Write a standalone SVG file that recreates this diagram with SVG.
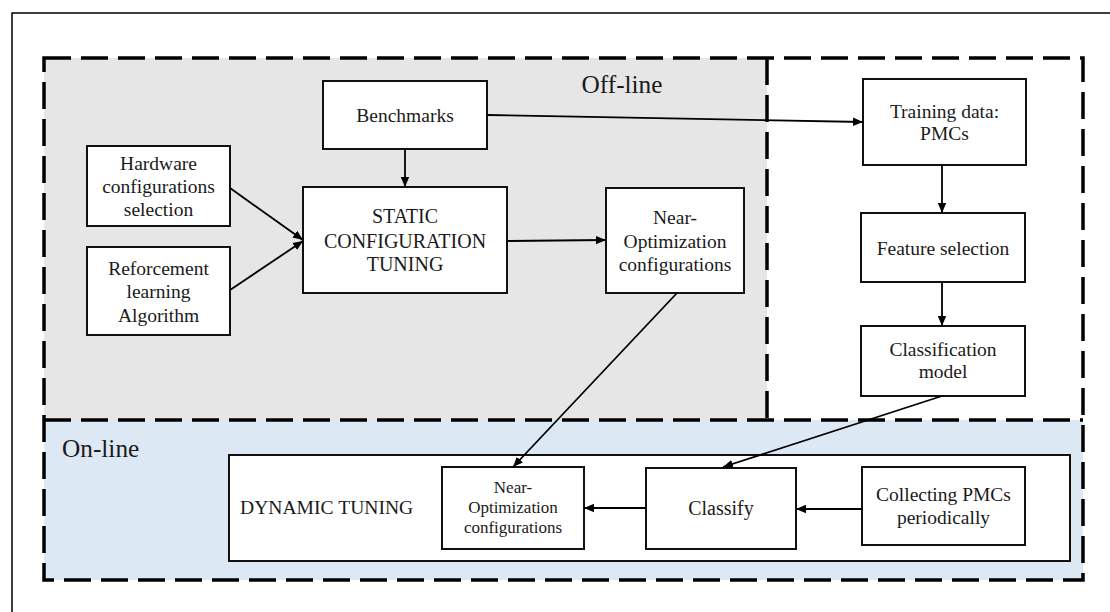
<svg xmlns="http://www.w3.org/2000/svg" width="1110" height="612" viewBox="0 0 1110 612">
<defs>
<style>
.box{fill:#fff;stroke:#111;stroke-width:2}
.dash{fill:none;stroke:#000;stroke-width:3.5;stroke-dasharray:27 10}
.t{font-family:"Liberation Serif","Times New Roman",serif;fill:#1a1a1a;text-anchor:middle}
.f19{font-size:20px}
.f18{font-size:19.5px}
.f16{font-size:17px}
.lbl{font-size:25.3px}
.conn{fill:none;stroke:#000;stroke-width:1.8}
</style>
<marker id="ah" markerUnits="userSpaceOnUse" markerWidth="12" markerHeight="10" refX="10" refY="5" orient="auto">
<path d="M0,0.8 L10,5 L0,9.2 Z" fill="#000"/>
</marker>
</defs>
<rect x="0" y="0" width="1110" height="612" fill="#fff"/>
<path d="M1110,13 H12 V612" fill="none" stroke="#000" stroke-width="1.5"/>

<g id="regions">
<rect x="44" y="58" width="723" height="362" fill="#e6e6e6"/>
<rect x="767" y="58" width="316" height="362" fill="#fff"/>
<rect x="44" y="420" width="1039" height="160" fill="#dde8f5"/>
<path class="dash" d="M44,58 H1083 V580 H44 Z"/>
<path class="dash" d="M767,58 V420"/>
<path class="dash" d="M44,420 H1083"/>
<text class="t lbl" x="622" y="93">Off-line</text>
<text class="t lbl" x="62" y="457" style="text-anchor:start">On-line</text>
</g>

<g id="dynamic">
<rect class="box" x="229" y="455" width="841" height="106"/>
<text class="t" x="240" y="514" style="text-anchor:start;font-size:19.6px">DYNAMIC TUNING</text>
</g>

<g id="benchmarks">
<rect class="box" x="323" y="81" width="164" height="68"/>
<text class="t f18" x="405" y="122">Benchmarks</text>
</g>

<g id="hardware">
<rect class="box" x="87" y="146" width="143" height="80"/>
<text class="t f18" x="158.5" y="170">Hardware</text>
<text class="t f18" x="158.5" y="193">configurations</text>
<text class="t f18" x="158.5" y="216">selection</text>
</g>

<g id="reinforcement">
<rect class="box" x="87" y="247" width="143" height="88"/>
<text class="t f18" x="158.5" y="275">Reforcement</text>
<text class="t f18" x="158.5" y="298">learning</text>
<text class="t f18" x="158.5" y="322">Algorithm</text>
</g>

<g id="static">
<rect class="box" x="303" y="187" width="204" height="106"/>
<text class="t f19" x="405" y="223">STATIC</text>
<text class="t f19" x="405" y="248">CONFIGURATION</text>
<text class="t f19" x="405" y="271">TUNING</text>
</g>

<g id="nearopt1">
<rect class="box" x="606" y="188" width="138" height="105"/>
<text class="t f18" x="675" y="224">Near-</text>
<text class="t f18" x="675" y="248">Optimization</text>
<text class="t f18" x="675" y="271">configurations</text>
</g>

<g id="training">
<rect class="box" x="863" y="79" width="163" height="86"/>
<text class="t f18" x="944.5" y="118">Training data:</text>
<text class="t f18" x="944.5" y="140">PMCs</text>
</g>

<g id="feature">
<rect class="box" x="861" y="213" width="164" height="69"/>
<text class="t f18" x="943" y="255">Feature selection</text>
</g>

<g id="classmodel">
<rect class="box" x="861" y="326" width="164" height="70"/>
<text class="t f18" x="943" y="356">Classification</text>
<text class="t f18" x="943" y="378">model</text>
</g>

<g id="nearopt2">
<rect class="box" x="442" y="467" width="142" height="82"/>
<text class="t f16" x="513" y="493">Near-</text>
<text class="t f16" x="513" y="513">Optimization</text>
<text class="t f16" x="513" y="533">configurations</text>
</g>

<g id="classify">
<rect class="box" x="646" y="468" width="150" height="81"/>
<text class="t f19" x="721" y="515">Classify</text>
</g>

<g id="collecting">
<rect class="box" x="862" y="467" width="163" height="78"/>
<text class="t f18" x="943.5" y="501">Collecting PMCs</text>
<text class="t f18" x="943.5" y="524">periodically</text>
</g>

<g id="connectors">
<path class="conn" d="M487,115 L863,122" marker-end="url(#ah)"/>
<path class="conn" d="M405,149 V187" marker-end="url(#ah)"/>
<path class="conn" d="M230,188 L303,240" marker-end="url(#ah)"/>
<path class="conn" d="M230,290 L303,241" marker-end="url(#ah)"/>
<path class="conn" d="M507,241 L606,240" marker-end="url(#ah)"/>
<path class="conn" d="M677,293 L513,467" marker-end="url(#ah)"/>
<path class="conn" d="M942,165 V213" marker-end="url(#ah)"/>
<path class="conn" d="M942,282 V326" marker-end="url(#ah)"/>
<path class="conn" d="M942,396 L723,467" marker-end="url(#ah)"/>
<path class="conn" d="M646,508 H584" marker-end="url(#ah)"/>
<path class="conn" d="M862,509 H796" marker-end="url(#ah)"/>
</g>
</svg>
